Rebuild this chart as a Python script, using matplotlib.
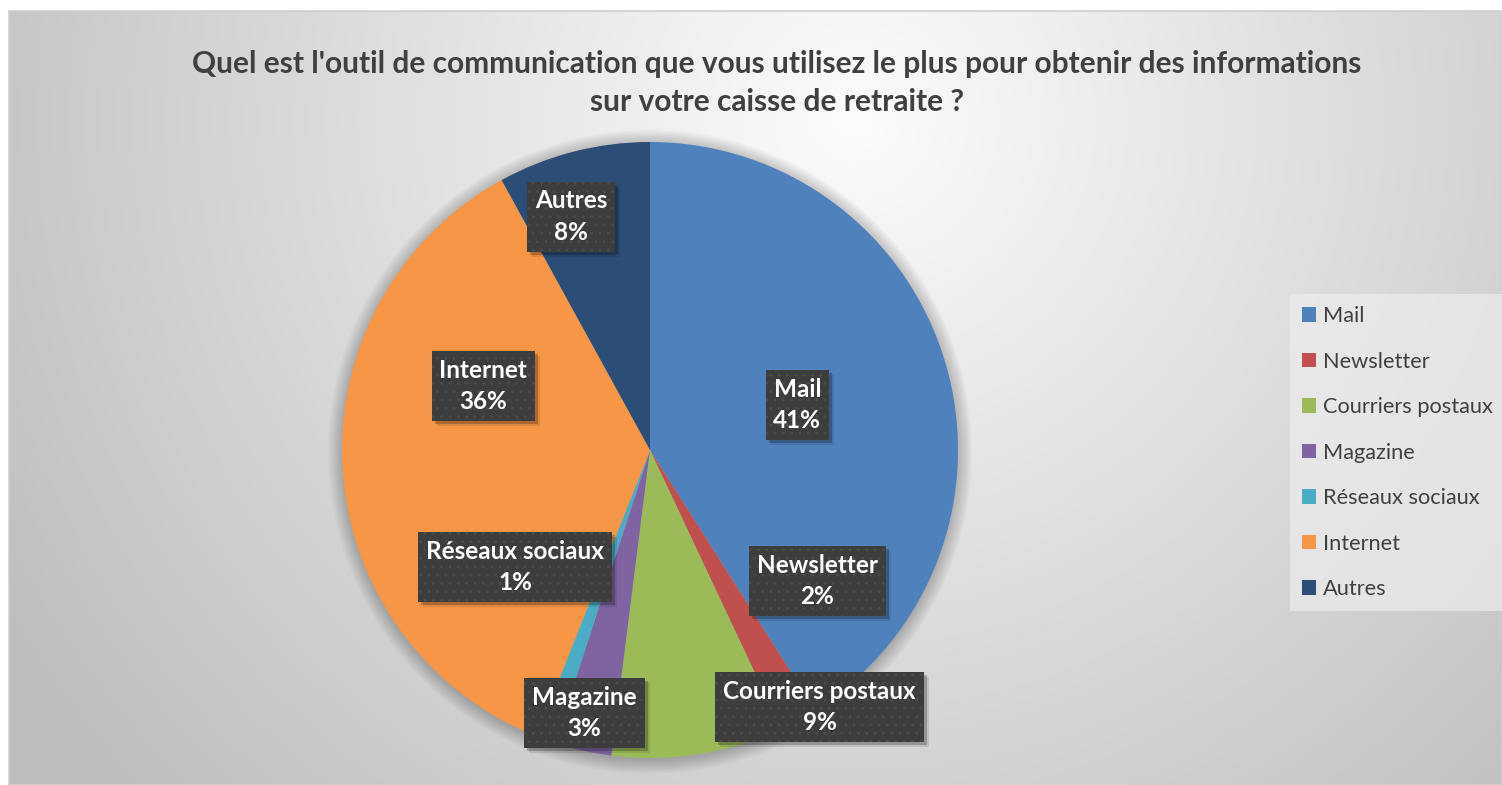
import numpy as np
import matplotlib
matplotlib.use("Agg")
import matplotlib.pyplot as plt
from matplotlib.patches import Patch, Circle, Rectangle
from matplotlib.transforms import IdentityTransform

plt.rcParams['font.family'] = ['Lato', 'DejaVu Sans']
plt.rcParams['hatch.linewidth'] = 0.9

# Data
categories = ['Mail', 'Newsletter', 'Courriers postaux', 'Magazine',
              'Réseaux sociaux', 'Internet', 'Autres']
values = [41, 2, 9, 3, 1, 36, 8]
colors = ['#4F81BD', '#C0504D', '#9BBB59', '#8064A2', '#4BACC6', '#F79646', '#2C4D75']
title = "Quel est l'outil de communication que vous utilisez le plus pour obtenir des informations\nsur votre caisse de retraite ?"

# label placement (radius fraction, angle in degrees) - layout only
label_r = [0.50, 0.69, 1.00, 0.88, 0.58, 0.58, 0.80]
label_ang = [17, -38, -56.6, -104, -139, 159, 108.7]

W, H = 1502, 785
fig = plt.figure(figsize=(W / 100, H / 100), dpi=100)
fig.patch.set_facecolor('white')

# Background radial gradient for chart area
bg = fig.add_axes([0, 0, 1, 1])
bg.set_xlim(0, W)
bg.set_ylim(H, 0)
bg.axis('off')
yy, xx = np.mgrid[0:H, 0:W]
d = np.sqrt((xx - 850) ** 2 + (yy - 110) ** 2)
v = 252 - 0.062 * d
v = np.clip(v, 190, 252) / 255.0
img = np.dstack([v, v, v])
bg.imshow(img, extent=[9, W, H, 11], origin='upper', aspect='auto', zorder=0)
bg.add_patch(Rectangle((9, 11), W - 9, H - 11, fill=False, edgecolor='#CFCFCF', lw=1.2, zorder=1))

# Title
bg.text(777, 83, title, ha='center', va='center', fontsize=21.5, fontweight='bold',
        color='#404040', linespacing=1.44)

# Pie
cx, cy, r = 650, 450, 308
ax = fig.add_axes([(cx - r) / W, (H - cy - r) / H, 2 * r / W, 2 * r / H])
ax.axis('off')

# soft shadow around pie
for i in range(10):
    ax.add_patch(Circle((0.0, -0.006), 1 + i * 0.005, facecolor='black', alpha=0.025,
                        edgecolor='none', zorder=0, clip_on=False))

wedges, _ = ax.pie(values, colors=colors, startangle=90, counterclock=False,
                   radius=1, wedgeprops=dict(linewidth=0))
for w in wedges:
    w.set_zorder(2)
ax.set_xlim(-1, 1)
ax.set_ylim(-1, 1)
ax.set_aspect('equal')

total = sum(values)
labels = []
for name, val, rr, ang in zip(categories, values, label_r, label_ang):
    a = np.deg2rad(ang)
    x, y = rr * np.cos(a), rr * np.sin(a)
    txt = f"{name}\n{round(100 * val / total)}%"
    t = ax.text(x, y, txt, color='white', zorder=6, ha='center', va='center',
                fontsize=17.5, fontweight='bold', linespacing=1.45, clip_on=False,
                bbox=dict(boxstyle='square,pad=0.32', facecolor='#3D3D3D',
                          edgecolor='#4B4B4B', linewidth=0, hatch='..'))
    labels.append(t)

# drop shadows behind label boxes
fig.canvas.draw()
for t in labels:
    ext = t.get_bbox_patch().get_window_extent()
    for off, al in [(5, 0.10), (3, 0.22)]:
        ax.add_patch(Rectangle((ext.x0 + off, ext.y0 - off), ext.width, ext.height,
                               transform=IdentityTransform(), facecolor='black', alpha=al,
                               edgecolor='none', zorder=3, clip_on=False))

# Legend
handles = [Patch(facecolor=c, edgecolor='none') for c in colors]
leg = fig.legend(handles, categories, loc='upper left',
                 bbox_to_anchor=(1290 / W, 1 - 294 / H), frameon=True, fancybox=False,
                 fontsize=15.7, labelcolor='#404040', handlelength=0.65, handleheight=0.65,
                 handletextpad=0.3, labelspacing=1.17, borderpad=0.55, borderaxespad=0)
leg.get_frame().set_facecolor('#EDEDED')
leg.get_frame().set_alpha(0.7)
leg.get_frame().set_edgecolor('none')

fig.savefig('out.png', dpi=100, facecolor='white')
